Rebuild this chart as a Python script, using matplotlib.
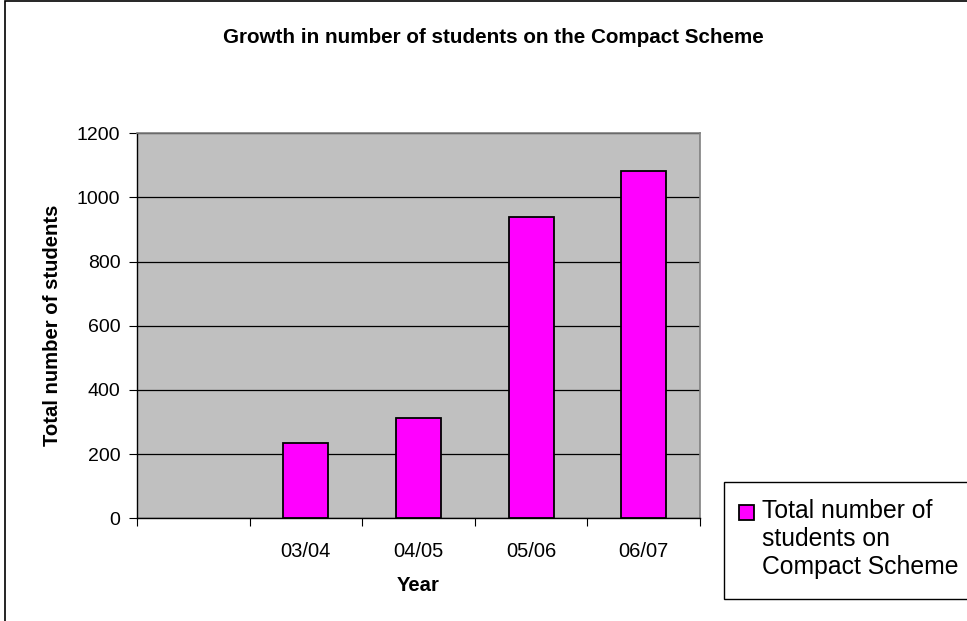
import numpy as np
import matplotlib
matplotlib.use("Agg")
import matplotlib.pyplot as plt
from matplotlib.patches import Rectangle

plt.rcParams["font.family"] = ["Liberation Sans", "DejaVu Sans"]

# data (first category is an empty slot)
years = ["", "03/04", "04/05", "05/06", "06/07"]
students = [np.nan, 235, 313, 939, 1082]
series_name = "Total number of\nstudents on\nCompact Scheme"
y_ticks = [0, 200, 400, 600, 800, 1000, 1200]

W, H = 967, 621
fig = plt.figure(figsize=(W / 100, H / 100), dpi=100)

def fx(px):
    return px / W

def fy(py):
    return 1 - py / H

# outer chart-area border (left and top visible, rest cropped)
fig.patches.append(Rectangle((fx(5), fy(H + 10)), fx(W + 10), fy(1) - fy(H + 10),
                             transform=fig.transFigure, fill=False,
                             edgecolor="black", linewidth=1.2))

ax = fig.add_axes([fx(137), fy(518.3), fx(700) - fx(137), fy(133.3) - fy(518.3)])
ax.set_facecolor("#C0C0C0")

x = np.arange(len(years))
ax.bar(x, students, width=0.4, color="#FF00FF", edgecolor="black",
       linewidth=1.3, zorder=3)

ax.set_xlim(-0.5, len(years) - 0.5)
ax.set_ylim(0, 1200)
ax.set_yticks(y_ticks)
ax.set_yticklabels([str(v) for v in y_ticks], fontsize=14)
ax.yaxis.grid(True, color="black", linewidth=0.9, zorder=1)
ax.set_axisbelow(True)

# category boundaries get the tick marks, labels sit at the centres
ax.set_xticks(np.arange(-0.5, len(years), 1.0))
ax.set_xticklabels([])
ax.set_xticks(x, minor=True)
ax.set_xticklabels(years, minor=True, fontsize=14.5)
ax.tick_params(axis="x", which="major", length=6, direction="out", color="black")
ax.tick_params(axis="x", which="minor", length=0, pad=17)
ax.tick_params(axis="y", length=6, direction="out", color="black", pad=6)

for side in ["top", "right"]:
    ax.spines[side].set_color("#808080")
    ax.spines[side].set_linewidth(1.2)
for side in ["left", "bottom"]:
    ax.spines[side].set_color("black")
    ax.spines[side].set_linewidth(1.0)

ax.set_xlabel("Year", fontsize=14.6, fontweight="bold", labelpad=11)
ax.set_ylabel("Total number of students", fontsize=14.6, fontweight="bold",
              labelpad=11)

fig.text(fx(493), fy(43), "Growth in number of students on the Compact Scheme",
         ha="center", va="baseline", fontsize=14.9, fontweight="bold")

# legend box drawn by hand so the swatch lines up with the first text line
fig.patches.append(Rectangle((fx(724), fy(599)), fx(980) - fx(724), fy(482) - fy(599),
                             transform=fig.transFigure, facecolor="white",
                             edgecolor="black", linewidth=1.0))
fig.patches.append(Rectangle((fx(739), fy(520)), fx(15), fy(505) - fy(520),
                             transform=fig.transFigure, facecolor="#FF00FF",
                             edgecolor="black", linewidth=1.3))
fig.text(fx(762), fy(499), series_name, ha="left", va="top", fontsize=17.8,
         linespacing=1.22)

fig.savefig("out.png", dpi=100)
